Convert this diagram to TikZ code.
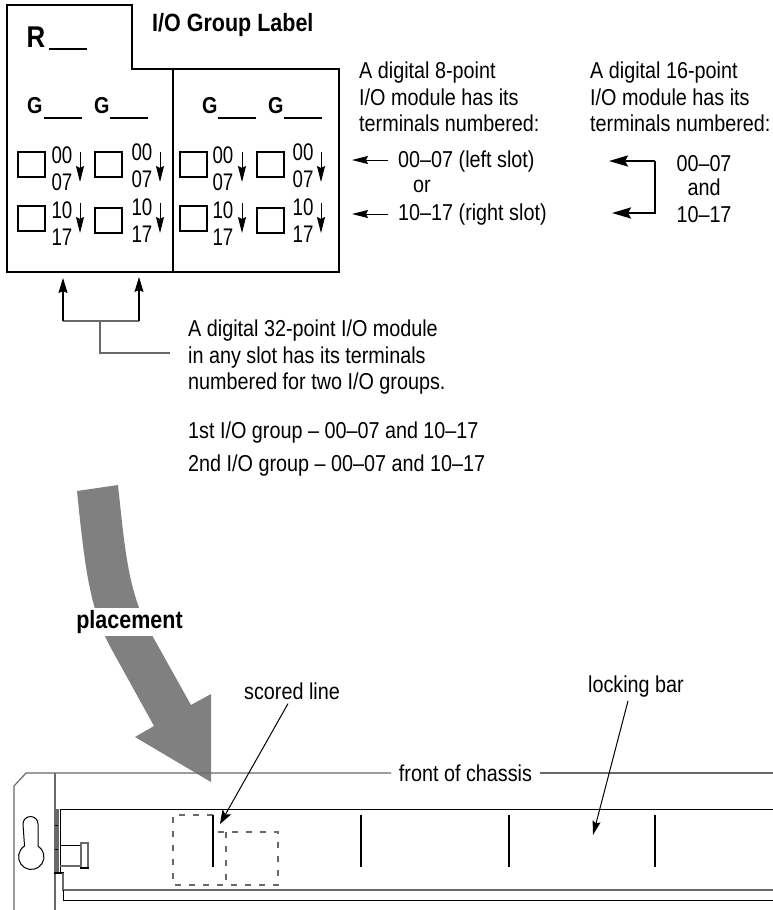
\documentclass[tikz,border=0pt]{standalone}
\usepackage{fontspec}
\setmainfont[FakeStretch=0.86]{Liberation Sans}
\newfontfamily\numfont[FakeStretch=0.78]{Liberation Sans}
\usetikzlibrary{arrows.meta, positioning}
\definecolor{ArrowGray}{RGB}{128, 128, 128}
\definecolor{ChassisGray}{RGB}{105, 105, 105}
\tikzset{
    body/.style={inner sep=0pt, font=\fontsize{23}{26.5}\selectfont, align=left},
    num/.style={inner sep=0pt, font=\numfont\fontsize{24}{24}\selectfont},
    heading/.style={inner sep=0pt, font=\fontsize{25}{26.5}\selectfont\bfseries},
    groupname/.style={inner sep=0pt, font=\fontsize{23}{23}\selectfont\bfseries},
    leader/.style={-{Stealth[length=16pt,width=8pt,inset=2pt]}, line width=1pt},
    tag/.style={-{Stealth[length=15pt,width=9pt,inset=2pt]}, line width=1.2pt},
    fatline/.style={line width=2.6pt},
    chassis/.style={ChassisGray, line width=1.2pt}
}
\begin{document}
\begin{tikzpicture}[x=1pt, y=-1pt]
    \useasboundingbox (0,0) rectangle (773,910);
    % label outline
    \draw[fatline] (7,5) -- (132,5) -- (132,69) -- (339,69) -- (339,272) -- (7,272) -- cycle;
    \draw[fatline] (173,69) -- (173,272);
    \node[inner sep=0pt, font=\fontsize{30}{30}\selectfont\bfseries] (rack) at (36,37) {R};
    \draw[fatline] (49,49) -- (87,49);
    \node[heading, anchor=west] (title) at (152,25) {I/O Group Label};
    \foreach \gx/\ux/\i in {27/44/a, 94/110/b, 202/218/c, 268/284/d} {
        \node[groupname, anchor=west] (g\i) at (\gx,106) {G};
        \draw[fatline] (\ux,118) -- ++(38,0);
    }
    % terminal boxes, numbers and small arrows
    \foreach \bx/\nx/\ax/\dy/\i in {18/62/80/0/a, 95/142/160/-3/b, 180/223/242/0/c, 257/303/321/-3/d} {
        \draw[line width=2pt] (\bx,152) rectangle ++(27,25);
        \draw[line width=2pt] (\bx,{206-\dy/2}) rectangle ++(27,25);
        \node[num] (top\i) at (\nx,155+\dy) {00};
        \node[num] (bot\i) at (\nx,182+\dy) {07};
        \node[num] (upp\i) at (\nx,210+\dy) {10};
        \node[num] (low\i) at (\nx,237+\dy) {17};
        \coordinate (sa\i) at (\ax,152);
        \coordinate (ea\i) at (\ax,182);
        \coordinate (sb\i) at (\ax,203);
        \coordinate (eb\i) at (\ax,233);
        \draw[leader] (sa\i) -- (ea\i);
        \draw[leader] (sb\i) -- (eb\i);
    }
    % 8-point text
    \node[body, anchor=north west] (eight) at (359,62) {A digital 8-point\\I/O module has its\\terminals numbered:};
    \node[body, anchor=west] (leftslot) at (398,162) {00--07 (left slot)};
    \node[body] (or) at (422,186) {or};
    \node[body, anchor=west] (rightslot) at (398,215) {10--17 (right slot)};
    \coordinate (leftfrom) at (388,160);
    \coordinate (leftto) at (352,160);
    \coordinate (rightfrom) at (388,214);
    \coordinate (rightto) at (352,214);
    \draw[leader] (leftfrom) -- (leftto);
    \draw[leader] (rightfrom) -- (rightto);
    % 16-point text
    \node[body, anchor=north west] (sixteen) at (590,62) {A digital 16-point\\I/O module has its\\terminals numbered:};
    \node[body] (sixa) at (704,164) {00--07};
    \node[body] (sixb) at (704,187) {and};
    \node[body] (sixc) at (704,215) {10--17};
    \coordinate (bracktop) at (655,161);
    \coordinate (brackbot) at (655,213);
    \coordinate (tiptop) at (609,161);
    \coordinate (tipbot) at (612,213);
    \draw[fatline, -{Stealth[length=19pt,width=11pt,inset=3pt]}] (bracktop) -- (tiptop);
    \draw[fatline, -{Stealth[length=19pt,width=11pt,inset=3pt]}] (bracktop) -- (brackbot) -- (tipbot);
    % 32-point text
    \node[body, anchor=north west] (thirtytwo) at (188,320) {A digital 32-point I/O module\\in any slot has its terminals\\numbered for two I/O groups.};
    \node[body, anchor=west] (first) at (188,433) {1st I/O group -- 00--07 and 10--17};
    \node[body, anchor=west] (second) at (188,466) {2nd I/O group -- 00--07 and 10--17};
    \coordinate (lefttip) at (63,278);
    \coordinate (righttip) at (139,277);
    \coordinate (leftfoot) at (63,321);
    \coordinate (rightfoot) at (139,321);
    \coordinate (stem) at (100,321);
    \coordinate (stembot) at (100,353);
    \coordinate (stemend) at (170,353);
    \draw[ChassisGray, line width=1.2pt] (stem) -- (stembot) -- (stemend);
    \draw[ChassisGray, line width=1.2pt] (leftfoot) -- (rightfoot);
    \draw[tag] (leftfoot) -- (lefttip);
    \draw[tag] (rightfoot) -- (righttip);
    % big placement arrow
    \fill[ArrowGray] (77,491) -- (118,485) .. controls (125,550) and (128,595) .. (153,637) -- (191,705)
        -- (211,694) -- (211,782) -- (135,737) -- (154,726) -- (112,650)
        .. controls (90,610) and (85,570) .. (77,491) -- cycle;
    \node[heading, fill=white, minimum height=28pt, minimum width=107pt] (placement) at (129.5,622) {placement};
    % chassis
    \node[body] (front) at (465.5,773) {front of chassis};
    \coordinate (frontl) at (391,773);
    \coordinate (frontr) at (540,773);
    \draw[chassis] (14,910) -- (14,786) -- (26,773) -- (frontl);
    \draw[chassis] (frontr) -- (773,773);
    \draw[chassis] (55,773) -- (55,910);
    \draw[line width=1pt] (60,809) -- (773,809);
    \draw[line width=1pt] (60,809) -- (60,873);
    \draw[ChassisGray, line width=2.6pt] (57.3,809) -- (57.3,873);
    \draw[line width=2.4pt] (54,873) -- (64,873);
    \draw[chassis] (63,873) -- (63,890) -- (773,890);
    \draw[line width=1pt] (63,890) -- (63,900) -- (773,900);
    \draw[line width=1pt] (55,825) -- (58,825);
    \draw[line width=1pt] (55,849) -- (58,849);
    % key hole and bolt
    \draw[line width=1pt] (23,824) arc[start angle=180, end angle=0, radius=7.5pt] -- (38,846)
        arc[start angle=58, end angle=-238, radius=12.7pt] -- cycle;
    \draw[line width=1pt] (60,845) -- (81,845);
    \draw[chassis] (60,866) -- (81,866);
    \draw[chassis] (81,843) rectangle (88,868);
    \draw[line width=2.4pt] (80,868) -- (89,868);
    % dashed module outline
    \draw[ChassisGray, line width=1.3pt, dash pattern=on 6pt off 8pt] (213,815) -- (173,815) -- (173,885) -- (278,885) -- (278,832) -- (213,832);
    \draw[ChassisGray, line width=1.3pt, dash pattern=on 6pt off 8pt] (226,832) -- (226,885);
    \foreach \sx in {213, 361, 509, 655} {
        \draw[fatline] (\sx,815) -- (\sx,867);
    }
    % chassis labels
    \node[body] (scored) at (292,691) {scored line};
    \node[body] (locking) at (636,687) {locking bar};
    \coordinate (scoredtip) at (220,824);
    \coordinate (lockingtip) at (593,835);
    \draw[leader, -{Stealth[length=14pt,width=10pt,inset=3pt]}] (scored.south) ++(-4,4) -- (scoredtip);
    \draw[leader, -{Stealth[length=14pt,width=8pt,inset=2pt]}] (locking.south) ++(-8,3) -- (lockingtip);
\end{tikzpicture}
\end{document}
